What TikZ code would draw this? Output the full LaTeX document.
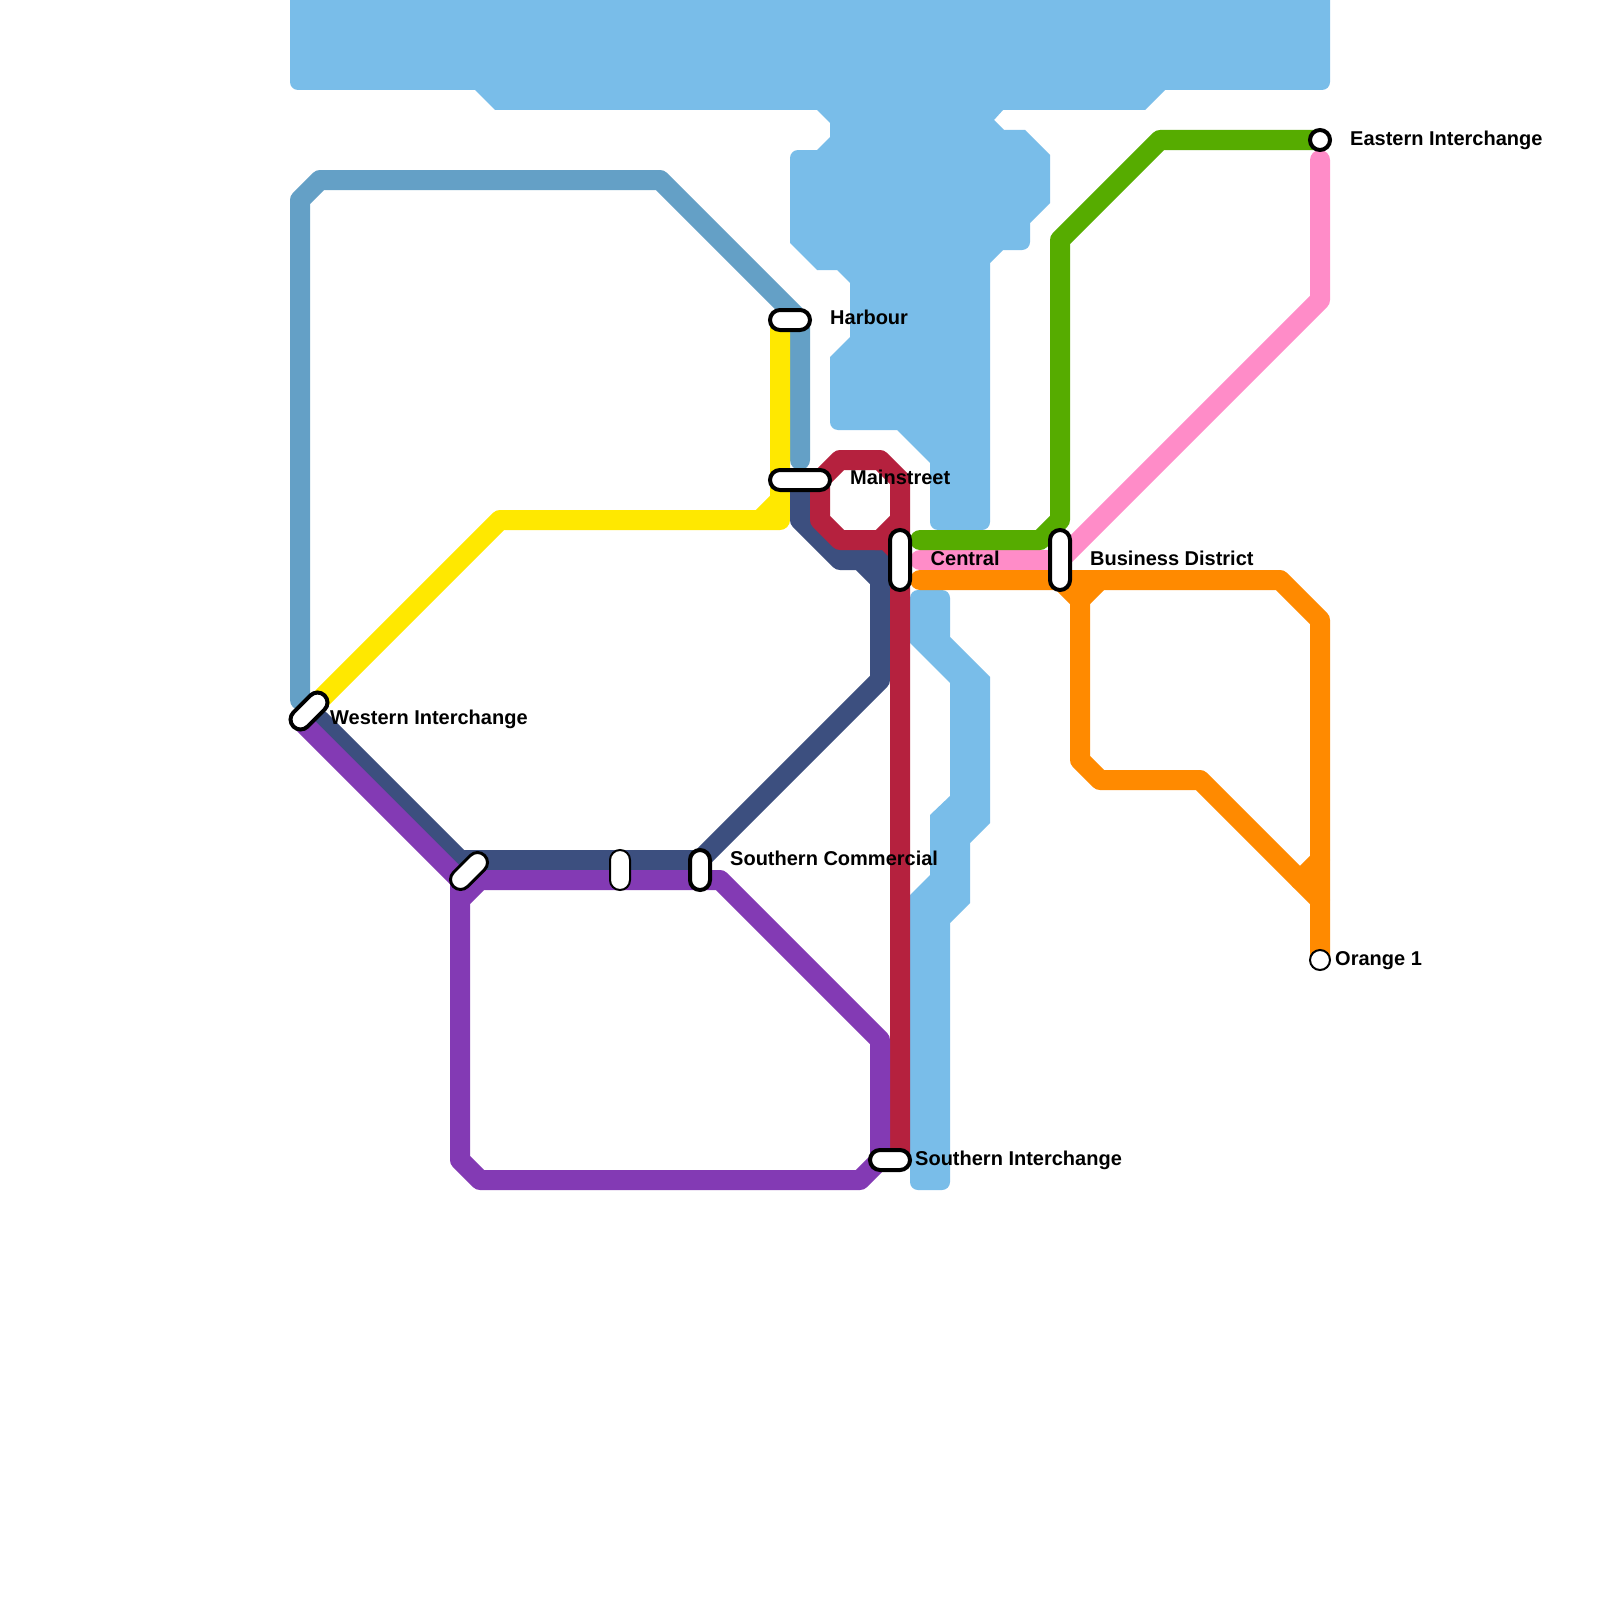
\documentclass[tikz,border=0pt]{standalone}
\usepackage{fontspec}
\setmainfont{Liberation Sans}
\usetikzlibrary{shapes.misc,shapes.geometric}
\definecolor{cWater}{HTML}{79BDE9}
\definecolor{cSteel}{HTML}{64A0C6}
\definecolor{cYellow}{HTML}{FFE800}
\definecolor{cNavy}{HTML}{3C4F7F}
\definecolor{cPurple}{HTML}{833AB4}
\definecolor{cRed}{HTML}{B5213E}
\definecolor{cGreen}{HTML}{56AC00}
\definecolor{cPink}{HTML}{FF8CC8}
\definecolor{cOrange}{HTML}{FF8A00}
\tikzset{
  railway/.style={line width=20pt,line cap=round,line join=round},
  pill/.style={shape=rounded rectangle,draw=black,fill=white,inner sep=0pt,minimum height=20pt,line width=#1},
  pill/.default=4pt,
  stop/.style={shape=circle,draw=black,fill=white,inner sep=0pt,minimum size=20pt,line width=#1},
  label/.style={anchor=base west,inner sep=0pt,font=\fontsize{20}{24}\selectfont\bfseries,text=black}
}
\begin{document}
\begin{tikzpicture}[x=1pt,y=-1pt]
\useasboundingbox (0,0) rectangle (1600,1600);
\fill[white] (0,0) rectangle (1600,1600);
% water
\fill[cWater] (290,0) -- (1330,0) -- (1330,82) .. controls (1330,86.4) and (1326.4,90) .. (1322,90)
  -- (1165,90) -- (1145,110) -- (1003,110) -- (994,120) -- (1004,130) -- (1025,130) -- (1050,155) -- (1050,203)
  -- (1030,223) -- (1030,242) .. controls (1030,246.4) and (1026.4,250) .. (1022,250)
  -- (1003,250) -- (990,263) -- (990,522) .. controls (990,526.4) and (986.4,530) .. (982,530)
  -- (938,530) .. controls (933.6,530) and (930,526.4) .. (930,522)
  -- (930,463) -- (897,430) -- (838,430) .. controls (833.6,430) and (830,426.4) .. (830,422)
  -- (830,357) -- (850,337) -- (850,283) -- (837,270) -- (817,270) -- (790,243)
  -- (790,158) .. controls (790,153.6) and (793.6,150) .. (798,150)
  -- (817,150) -- (830,137) -- (830,123) -- (817,110) -- (495,110) -- (475,90)
  -- (298,90) .. controls (293.6,90) and (290,86.4) .. (290,82) -- cycle;
\fill[cWater] (910,598) .. controls (910,593.6) and (913.6,590) .. (918,590)
  -- (942,590) .. controls (946.4,590) and (950,593.6) .. (950,598)
  -- (950,637) -- (990,677) -- (990,823) -- (970,843) -- (970,903) -- (950,923)
  -- (950,1182) .. controls (950,1186.4) and (946.4,1190) .. (942,1190)
  -- (918,1190) .. controls (913.6,1190) and (910,1186.4) .. (910,1182)
  -- (910,895) -- (930,875) -- (930,815) -- (950,796) -- (950,683) -- (910,643) -- cycle;
% station anchors
\coordinate (harbourY) at (780,320);
\coordinate (mainS) at (800,460);
\coordinate (mainN) at (800,480);
\coordinate (westA) at (300,720);
\coordinate (westB) at (320,700);
\coordinate (westC) at (300,700);
\coordinate (westD) at (320,720);
\coordinate (southI) at (900,1160);
\coordinate (southP) at (880,1160);
\coordinate (centralG) at (920,540);
\coordinate (centralP) at (920,560);
\coordinate (centralO) at (920,580);
\coordinate (centralM) at (900,560);
\coordinate (bizP) at (1060,560);
\coordinate (bizO) at (1060,580);
\coordinate (east) at (1320,140);
\coordinate (orange) at (1320,960);
% lines
\draw[railway,cSteel] (mainS) -- (800,320) -- (660,180) -- (320,180) -- (300,200) -- (westC);
\draw[railway,cYellow] (harbourY) -- (780,520) -- (500,520) -- (westB);
\draw[railway,cYellow] (780,500) -- (760,520);
\draw[railway,cNavy] (westD) -- (460,860) -- (700,860) -- (880,680) -- (880,580) -- (860,560) -- (840,560) -- (800,520) -- (mainN);
\draw[railway,cNavy] (860,560) -- (centralM);
\draw[railway,cNavy] (880,580) -- (880,560);
\draw[railway,cRed] (southI) -- (900,480) -- (880,460) -- (840,460) -- (820,480) -- (820,520) -- (840,540) -- (880,540) -- (900,520);
\fill[cRed] (875,530) -- (875,550) -- (882,550) -- (892,560) -- (900,560) -- (900,530) -- cycle;
\draw[railway,cPurple] (westA) -- (460,880) -- (460,1160) -- (480,1180) -- (860,1180) -- (southP) -- (880,1040) -- (720,880) -- (480,880) -- (460,900);
\draw[railway,cPink] (east |- 0,160) -- (1320,300) -- (bizP) -- (centralP);
\draw[railway,cGreen] (centralG) -- (1040,540) -- (1060,520) -- (1060,240) -- (1160,140) -- (east);
\draw[railway,cOrange] (centralO) -- (1280,580) -- (1320,620) -- (orange);
\draw[railway,cOrange] (bizO) -- (1080,600) -- (1080,760) -- (1100,780) -- (1200,780) -- (1320,900);
\draw[railway,cOrange] (1100,580) -- (1080,600);
\draw[railway,cOrange] (1320,860) -- (1300,880);
% stations
\node[pill=4pt,minimum width=40pt] (nHarbour) at (790,320) {};
\node[pill=4pt,minimum width=60pt] (nMain) at (800,480) {};
\node[pill=4pt,minimum width=44pt,rotate=45] (nWest) at (309,711) {};
\node[pill=3pt,minimum width=44pt,rotate=45] (nSW) at (469,871) {};
\node[pill=2pt,minimum width=40pt,rotate=90] (nMid) at (620,870) {};
\node[pill=4pt,minimum width=40pt,rotate=90] (nSC) at (700,870) {};
\node[pill=4pt,minimum width=60pt,rotate=90] (nCentral) at (900,560) {};
\node[pill=4pt,minimum width=60pt,rotate=90] (nBiz) at (1060,560) {};
\node[pill=4pt,minimum width=40pt] (nSI) at (890,1160) {};
\node[stop=4pt] (nEast) at (east) {};
\node[stop=2pt] (nOrange) at (orange) {};
% labels
\node[label] (tHarbour) at (830,324.5) {Harbour};
\node[label] (tMain) at (850,484) {Mainstreet};
\node[label] (tCentral) at (930.5,565) {Central};
\node[label] (tBiz) at (1090,565) {Business District};
\node[label] (tWest) at (330,724) {Western Interchange};
\node[label] (tSC) at (730,865) {Southern Commercial};
\node[label] (tSI) at (915,1165) {Southern Interchange};
\node[label] (tEast) at (1350,146) {Eastern Interchange};
\node[label] (tOrange) at (1335,965) {Orange 1};
\end{tikzpicture}
\end{document}
